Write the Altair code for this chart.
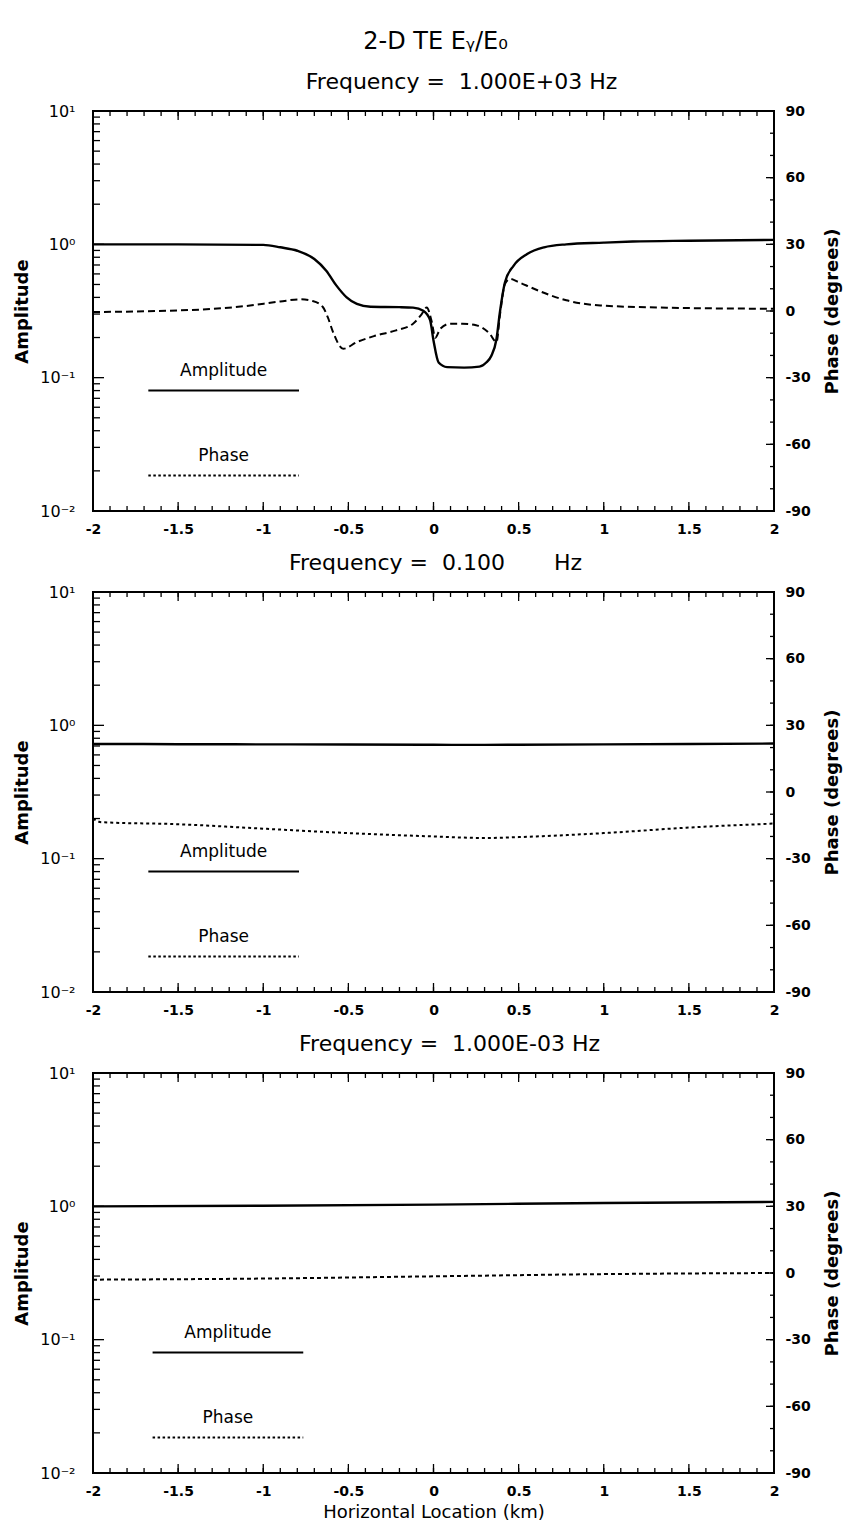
import altair as alt
import pandas as pd
import numpy as np

# ---------------- data ----------------
# Panel 1 : f = 1.000E+03 Hz
x1_amp = [-2.0, -1.5, -1.0, -0.9, -0.8, -0.7, -0.63, -0.57, -0.51, -0.45, -0.37, -0.2, -0.12,
          -0.06, -0.02, 0.0, 0.03, 0.08, 0.18, 0.27, 0.31, 0.34, 0.37, 0.39, 0.42, 0.47, 0.55,
          0.65, 0.78, 1.0, 1.17, 1.5, 2.0]
amp1 = [1.0, 1.0, 0.99, 0.95, 0.895, 0.776, 0.634, 0.49, 0.40, 0.357, 0.34, 0.338, 0.335,
        0.318, 0.27, 0.19, 0.13, 0.12, 0.119, 0.121, 0.13, 0.146, 0.195, 0.31, 0.52, 0.69, 0.846,
        0.95, 1.0, 1.03, 1.05, 1.065, 1.08]
x1_ph = [-2.0, -1.69, -1.29, -1.1, -0.9, -0.78, -0.71, -0.65, -0.62, -0.59, -0.53, -0.45, -0.35,
         -0.22, -0.12, -0.07, -0.04, -0.01, 0.01, 0.04, 0.1, 0.17, 0.25, 0.33, 0.37, 0.39, 0.42,
         0.45, 0.5, 0.59, 0.78, 0.98, 1.37, 2.0]
ph1 = [-0.5, -0.1, 1.0, 2.25, 4.3, 5.25, 4.5, 1.8, -3.0, -9.5, -17.0, -14.0, -11.3,
       -8.7, -5.7, -1.5, 1.6, -5.0, -12.0, -8.0, -5.7, -5.7, -6.4, -10.2, -14.0, -2.0, 12.3,
       14.5, 13.0, 10.0, 4.8, 2.5, 1.5, 1.0]

# Panel 2 : f = 0.100 Hz
x2 = [-2.0, -1.95, -1.5, -1.0, -0.5, 0.0, 0.3, 0.5, 1.0, 1.5, 2.0]
amp2 = [0.725, 0.725, 0.722, 0.72, 0.718, 0.715, 0.713, 0.715, 0.72, 0.725, 0.73]
ph2 = [-12.0, -13.6, -14.5, -16.5, -18.5, -20.0, -20.7, -20.3, -18.5, -16.0, -14.2]

# Panel 3 : f = 1.000E-03 Hz
x3 = [-2.0, -1.0, 0.0, 1.0, 2.0]
amp3 = [1.0, 1.01, 1.03, 1.06, 1.08]
ph3 = [-3.0, -2.5, -1.5, -0.5, 0.0]

panel_titles = ["Frequency =\u00a0 1.000E+03 Hz",
                "Frequency =\u00a0 0.100\u00a0\u00a0\u00a0\u00a0\u00a0\u00a0 Hz",
                "Frequency =\u00a0 1.000E-03 Hz"]
title_dx = [28, 2, 16]
main_title = "2-D TE E\u1d67/E\u2080"

x_labels = [-2, -1.5, -1, -0.5, 0, 0.5, 1, 1.5, 2]
amp_labels = [0.01, 0.1, 1, 10]
phase_labels = [-90, -60, -30, 0, 30, 60, 90]

x_minor = [round(v, 1) for v in np.arange(-2.0, 2.0001, 0.1)]
amp_minor = [k * 10.0 ** e for e in (-2, -1, 0) for k in range(2, 10)]
phase_minor = list(range(-80, 90, 10))

# legend (line ends in km, heights in amplitude units)
leg_x0 = [-1.675, -1.675, -1.65]
leg_x1 = [-0.79, -0.79, -0.765]
leg_amp_line = 0.08
leg_amp_text = 0.112
leg_ph_line = 0.0185
leg_ph_text = 0.026

# ---------------- styling ----------------
W, H = 681, 400
FONT = "DejaVu Sans"
xscale = alt.Scale(domain=[-2, 2], nice=False, zero=False)
ascale = alt.Scale(type="log", domain=[0.01, 10], nice=False)
pscale = alt.Scale(domain=[-90, 90], nice=False, zero=False)


def panel(i, x_amp, amp, x_ph, ph, dash):
    last = i == 2
    xaxis = alt.Axis(values=x_labels, labelExpr="toString(datum.value)", ticks=False, domain=False,
                     grid=False, labelFont=FONT, labelFontSize=14, labelFontWeight="bold",
                     labelPadding=11, labelColor="black", orient="bottom",
                     title="Horizontal Location (km)" if last else "",
                     titleFont=FONT, titleFontSize=18, titleFontWeight="normal", titlePadding=5,
                     titleColor="black", labelFlush=False)
    yaxis = alt.Axis(values=amp_labels, orient="left",
                     labelExpr="datum.value > 5 ? '10\u00b9' : datum.value > 0.5 ? '10\u2070' : datum.value > 0.05 ? '10\u207b\u00b9' : '10\u207b\u00b2'",
                     ticks=False, domain=False, grid=False, labelFont=FONT, labelFontSize=16,
                     labelPadding=18, labelColor="black", title="Amplitude", titleFont=FONT,
                     titleFontSize=18, titleFontWeight="bold", titlePadding=8, titleColor="black")
    paxis = alt.Axis(values=phase_labels, labelExpr="toString(datum.value)", orient="right",
                     ticks=False, domain=False, grid=False, labelFont=FONT, labelFontSize=14,
                     labelFontWeight="bold", labelPadding=11, labelColor="black",
                     title="Phase (degrees)", titleAngle=270, titleBaseline="top", titleFont=FONT,
                     titleFontSize=18, titleFontWeight="bold", titlePadding=13, titleColor="black")

    X = lambda f="x": alt.X(f"{f}:Q", scale=xscale, axis=xaxis)
    YA = lambda: alt.Y("amp:Q", scale=ascale, axis=yaxis)
    YP = lambda: alt.Y("phase:Q", scale=pscale, axis=paxis)

    amp_df = pd.DataFrame({"x": x_amp, "amp": amp})
    ph_df = pd.DataFrame({"x": x_ph, "phase": ph})

    amp_line = alt.Chart(amp_df).mark_line(color="black", strokeWidth=2.4, interpolate="monotone").encode(
        x=X(), y=YA())
    ph_line = alt.Chart(ph_df).mark_line(color="black", strokeWidth=2, strokeDash=dash,
                                         interpolate="monotone").encode(x=X(), y=YP())

    xt = []
    for vals, ln in ((x_minor, 5), (x_labels, 9)):
        base = alt.Chart(pd.DataFrame({"x": vals})).mark_rule(color="black", strokeWidth=1.3)
        xt.append(base.encode(x=X(), y=alt.value(H), y2=alt.value(H - ln)))
        xt.append(base.encode(x=X(), y=alt.value(0), y2=alt.value(ln)))

    at = []
    for vals, ln in ((amp_minor, 7), (amp_labels, 11)):
        at.append(alt.Chart(pd.DataFrame({"amp": vals})).mark_rule(color="black", strokeWidth=1.3).encode(
            y=YA(), x=alt.value(0), x2=alt.value(ln)))
    pt = []
    for vals, ln in ((phase_minor, 4), (phase_labels, 8)):
        pt.append(alt.Chart(pd.DataFrame({"phase": vals})).mark_rule(color="black", strokeWidth=1.3).encode(
            y=YP(), x=alt.value(W - ln), x2=alt.value(W)))

    x0, x1 = leg_x0[i], leg_x1[i]
    xc = (x0 + x1) / 2
    leg_solid = alt.Chart(pd.DataFrame({"x": [x0], "x2": [x1], "amp": [leg_amp_line]})).mark_rule(
        color="black", strokeWidth=2).encode(x=X(), x2="x2:Q", y=YA())
    leg_dot = alt.Chart(pd.DataFrame({"x": [x0], "x2": [x1], "amp": [leg_ph_line]})).mark_rule(
        color="black", strokeWidth=2, strokeDash=[2.5, 2.5]).encode(x=X(), x2="x2:Q", y=YA())
    leg_text_df = pd.DataFrame({"x": [xc, xc], "amp": [leg_amp_text, leg_ph_text], "t": ["Amplitude", "Phase"]})
    leg_text = alt.Chart(leg_text_df).mark_text(font=FONT, fontSize=17, color="black").encode(
        x=X(), y=YA(), text="t:N")

    amp_layer = alt.layer(amp_line, *xt, *at, leg_solid, leg_dot, leg_text)
    ph_layer = alt.layer(ph_line, *pt)
    return alt.layer(amp_layer, ph_layer).resolve_scale(y="independent").properties(
        width=W, height=H,
        title=alt.TitleParams(panel_titles[i], font=FONT, fontSize=22, fontWeight="normal",
                              anchor="middle", offset=9, dx=title_dx[i], color="black"))


p1 = panel(0, x1_amp, amp1, x1_ph, ph1, [7, 4])
p2 = panel(1, x2, amp2, x2, ph2, [3, 3])
p3 = panel(2, x3, amp3, x3, ph3, [4, 3])

chart = alt.vconcat(p1, p2, p3, spacing=14).properties(
    title=alt.TitleParams(main_title, font=FONT, fontSize=24, fontWeight="normal", anchor="middle",
                          offset=16, dx=8, color="black"),
    padding={"top": 22, "left": 4, "right": 2, "bottom": 2},
).configure_view(stroke="black", strokeWidth=2)

chart.save("out.html", embed_options={"renderer": "svg", "actions": False})
